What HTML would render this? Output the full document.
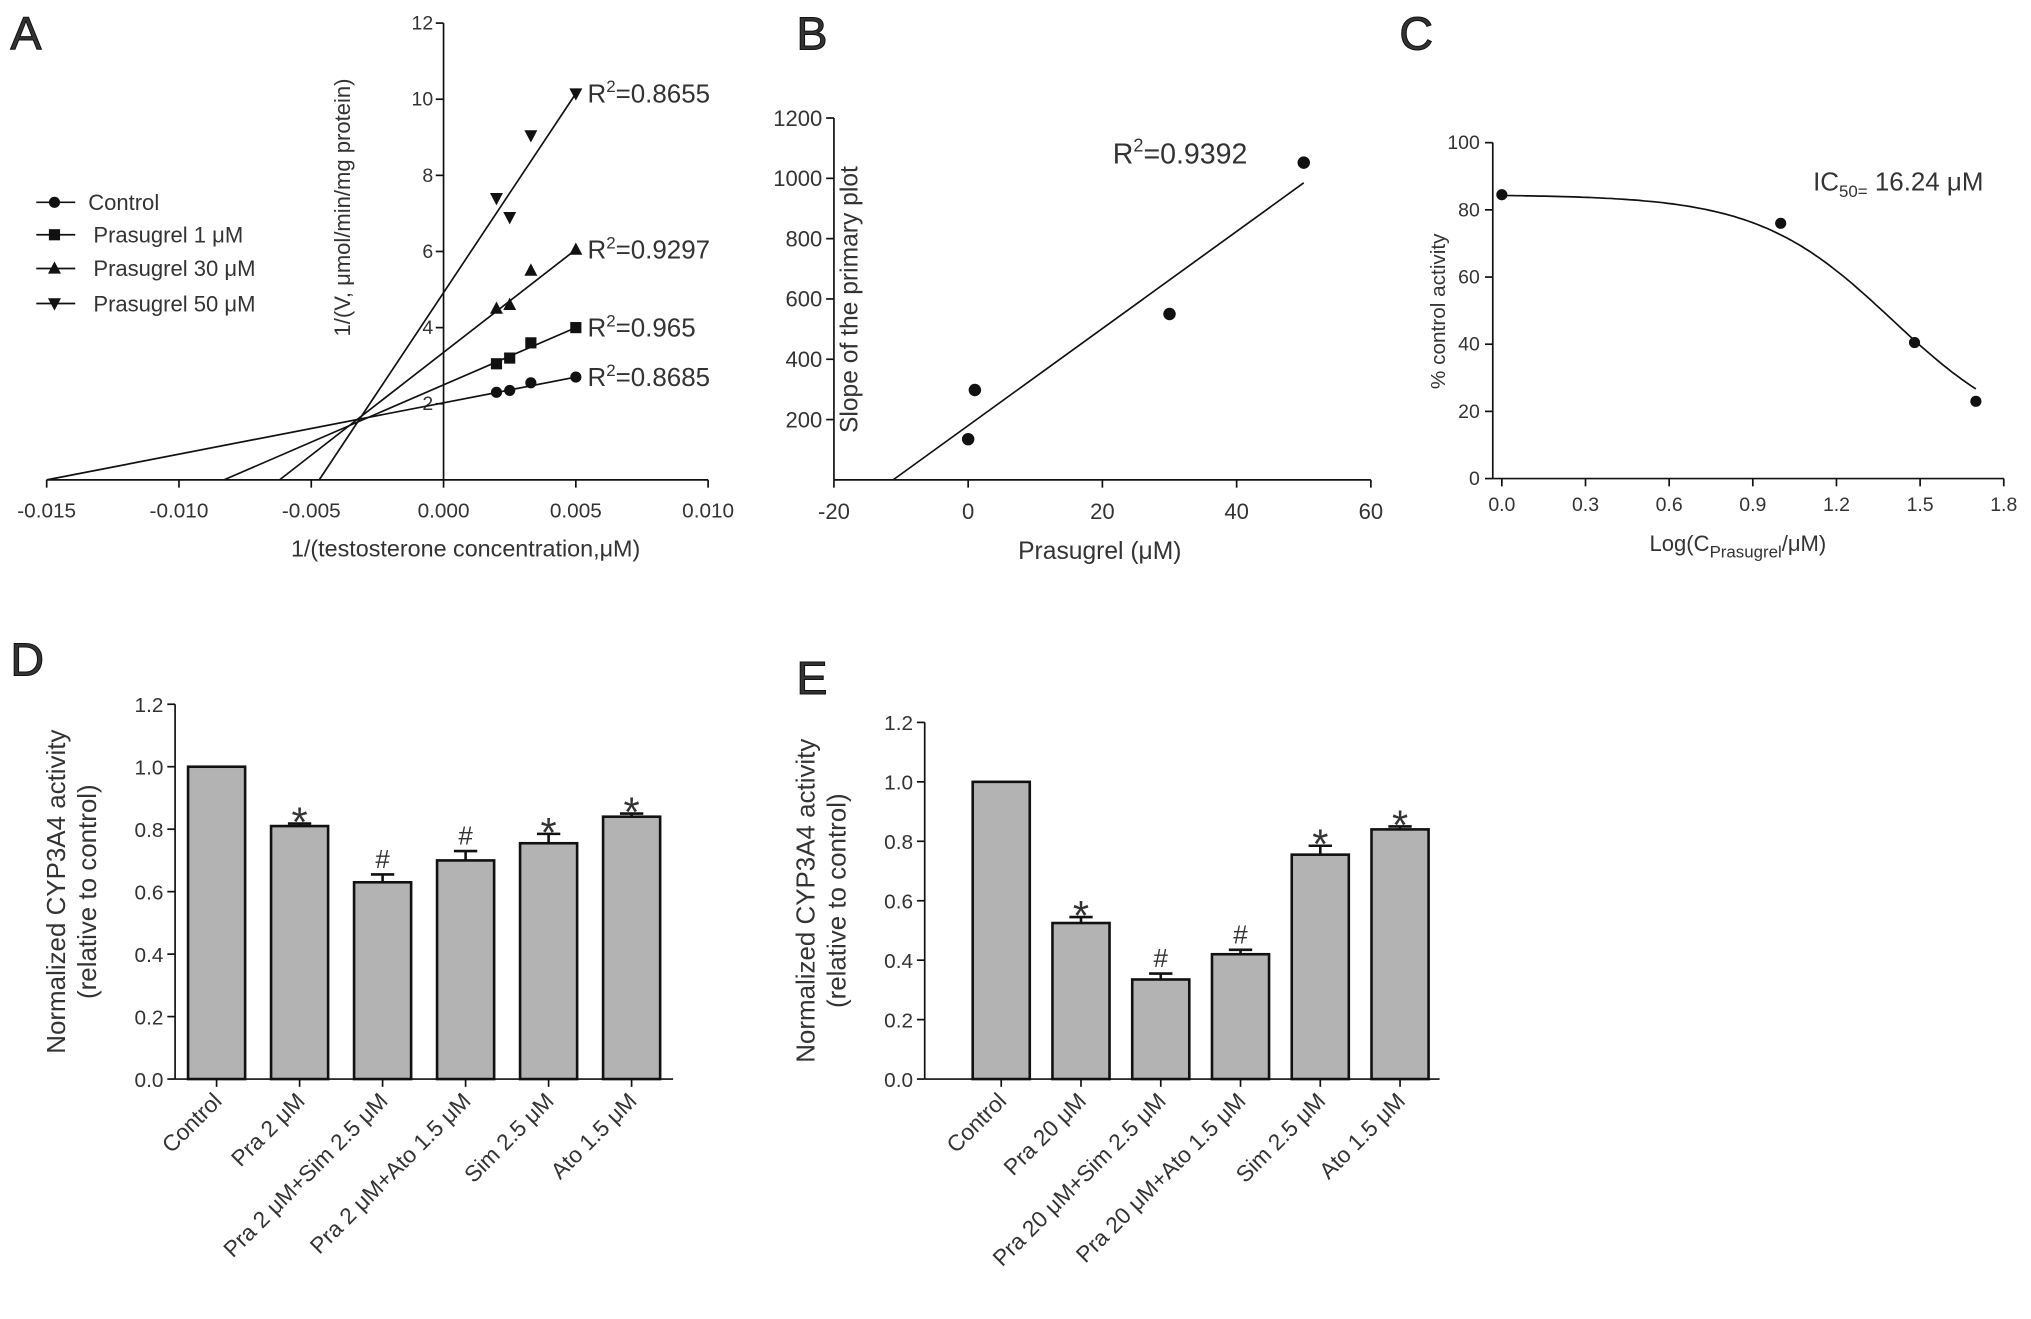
<!DOCTYPE html>
<html><head><meta charset="utf-8">
<style>
html,body{margin:0;padding:0;background:#fff;}
svg{display:block;}
text{font-family:"Liberation Sans",Arial,sans-serif;fill:#333;}
</style></head>
<body>
<svg id="fig" width="2031" height="1319" viewBox="0 0 1566 1017" xmlns="http://www.w3.org/2000/svg"></svg>
<script>
// ---------- Panel A data ----------
const aXTicks=[-0.015,-0.010,-0.005,0.000,0.005,0.010];
const aXTickLabels=["-0.015","-0.010","-0.005","0.000","0.005","0.010"];
const aYTicks=[2,4,6,8,10,12];
const aX=[0.002,0.0025,0.0033,0.005];
const aControl=[2.3,2.35,2.55,2.7];
const aPra1=[3.05,3.2,3.6,4.0];
const aPra30=[4.5,4.6,5.5,6.05];
const aPra50=[7.4,6.9,9.05,10.15];
const aIntercepts=[-0.015,-0.0083,-0.0062,-0.0047];
const aLineEnds=[2.7,4.0,6.05,10.15];
const aR2=["0.8685","0.965","0.9297","0.8655"];
const aNames=["Control","Prasugrel 1 μM","Prasugrel 30 μM","Prasugrel 50 μM"];
// ---------- Panel B data ----------
const bX=[0,1,30,50];
const bY=[135,298,550,1052];
const bXTicks=[-20,0,20,40,60];
const bYTicks=[200,400,600,800,1000,1200];
const bFitSlope=[16.1];
const bFitIntercept=[180];
// ---------- Panel C data ----------
const cX=[0,1,1.48,1.7];
const cY=[84.5,76,40.5,23];
const cXTicks=[0.0,0.3,0.6,0.9,1.2,1.5,1.8];
const cYTicks=[0,20,40,60,80,100];
const cFit=[84.5,10,1.4,1.8]; // top,bottom,logEC,hill
// ---------- Panel D data ----------
const dCats=["Control","Pra 2 μM","Pra 2 μM+Sim 2.5 μM","Pra 2 μM+Ato 1.5 μM","Sim 2.5 μM","Ato 1.5 μM"];
const dVals=[1.0,0.81,0.63,0.70,0.755,0.84];
const dErr=[0,0.008,0.025,0.03,0.03,0.01];
const dMarks=["","*","#","#","*","*"];
// ---------- Panel E data ----------
const eCats=["Control","Pra 20 μM","Pra 20 μM+Sim 2.5 μM","Pra 20 μM+Ato 1.5 μM","Sim 2.5 μM","Ato 1.5 μM"];
const eVals=[1.0,0.525,0.335,0.42,0.755,0.84];
const eErr=[0,0.02,0.02,0.015,0.03,0.01];
const eMarks=["","*","#","#","*","*"];
const barTicks=[0,0.2,0.4,0.6,0.8,1.0,1.2];
const barTickLabels=["0.0","0.2","0.4","0.6","0.8","1.0","1.2"];

const NS="http://www.w3.org/2000/svg";
const svg=document.getElementById('fig');
function mk(tag,attrs,parent){const e=document.createElementNS(NS,tag);for(const k in attrs)e.setAttribute(k,attrs[k]);(parent||svg).appendChild(e);return e;}
function txt(s,x,y,size,anchor,parent,extra){const t=mk('text',Object.assign({x:x,y:y,'font-size':size,'text-anchor':anchor||'start'},extra||{}),parent);t.textContent=s;return t;}
function line(x1,y1,x2,y2,p,w){return mk('line',{x1,y1,x2,y2,stroke:'#111','stroke-width':w||1.3},p);}
function marker(type,x,y,p){
  let e;
  if(type===0)e=mk('circle',{cx:x,cy:y,r:4.3,fill:'#111'},p);
  else if(type===1)e=mk('rect',{x:x-4.3,y:y-4.3,width:8.6,height:8.6,fill:'#111'},p);
  else if(type===2)e=mk('polygon',{points:`${x},${y-5.5} ${x-5},${y+4} ${x+5},${y+4}`,fill:'#111'},p);
  else e=mk('polygon',{points:`${x},${y+5.5} ${x-5},${y-4} ${x+5},${y-4}`,fill:'#111'},p);
  return e;
}
function letter(s,x,y,p){const t=txt(s,x,y,36,'start',p,{fill:'#111','stroke':'#111','stroke-width':0.8});return t;}

// ================= Panel A =================
(function(){
  const g=mk('g',{});
  
  
  const X=v=>36+(v+0.015)/0.025*510, Y=v=>370-v*29.35;
  letter('A',8,38,g);
  line(X(-0.015),370,X(0.010),370,g);
  line(X(0),Y(12),X(0),370,g);
  aXTicks.forEach((v,i)=>{line(X(v),370,X(v),376,g);const t=txt(aXTickLabels[i],X(v),399,16,'middle',g);});
  aYTicks.forEach(v=>{line(X(0)-6,Y(v),X(0),Y(v),g);const t=txt(String(v),X(0)-8,Y(v)+5,15,'end',g);});
  const series=[aControl,aPra1,aPra30,aPra50];
  series.forEach((s,i)=>{
    const l=line(X(aIntercepts[i]),Y(0),X(0.005),Y(aLineEnds[i]),g,1.3);
    
    
    s.forEach((v,j)=>{const m=marker(i,X(aX[j]),Y(v),g);});
    const t=mk('text',{x:453,y:Y(aLineEnds[i])+7,'font-size':20,'fill':'#777'},g);
    
    
    t.innerHTML='R<tspan dy="-8" font-size="13">2</tspan><tspan dy="8">='+aR2[i]+'</tspan>';
  });
  const lg=mk('g',{},g);
  
  
  const ly=[156,181,207,234];
  aNames.forEach((n,i)=>{line(28,ly[i],58,ly[i],lg);marker(i,42,ly[i],lg);const t=txt(n,i===0?68:72,ly[i]+6,17,'start',lg);});
  const yt=txt('1/(V, μmol/min/mg protein)',0,0,17,'middle',g,{transform:'translate(270,160) rotate(-90)'});
  
  const xt=txt('1/(testosterone concentration,μM)',359,429,18,'middle',g);
  
})();

// ================= Panel B =================
(function(){
  const g=mk('g',{});
  
  
  const X=v=>643+(v+20)/80*414, Y=v=>370-v/1200*279;
  letter('B',614,38,g);
  line(643,370,1057,370,g);line(643,Y(1200),643,370,g);
  bXTicks.forEach(v=>{line(X(v),370,X(v),376,g);const t=txt(String(v),X(v),400,17,'middle',g);});
  bYTicks.forEach(v=>{line(637,Y(v),643,Y(v),g);const t=txt(String(v),634,Y(v)+6,17,'end',g);});
  const x0=-bFitIntercept[0]/bFitSlope[0];
  const fl=line(X(x0),Y(0),X(50),Y(bFitSlope[0]*50+bFitIntercept[0]),g);
  
  bX.forEach((v,i)=>{const c=mk('circle',{cx:X(v),cy:Y(bY[i]),r:4.8,fill:'#111'},g);});
  const t=mk('text',{x:858,y:126,'font-size':22,fill:'#333'},g);
  
  t.innerHTML='R<tspan dy="-9" font-size="14">2</tspan><tspan dy="9">=0.9392</tspan>';
  const yt=txt('Slope of the primary plot',0,0,19,'middle',g,{transform:'translate(661,231) rotate(-90)'});
  
  const xt=txt('Prasugrel (μM)',848,431,19,'middle',g);
  
})();

// ================= Panel C =================
(function(){
  const g=mk('g',{});
  
  
  const X=v=>1158+v/1.8*387, Y=v=>369-v/100*259;
  letter('C',1079,38,g);
  line(1151,369,1545,369,g);line(1151,Y(100),1151,369,g);
  cXTicks.forEach(v=>{line(X(v),369,X(v),375,g);const t=txt(v.toFixed(1),X(v),394,15,'middle',g);});
  cYTicks.forEach(v=>{line(1145,Y(v),1151,Y(v),g);const t=txt(String(v),1141,Y(v)+5,15,'end',g);});
  const f=x=>cFit[1]+(cFit[0]-cFit[1])/(1+Math.pow(10,cFit[3]*(x-cFit[2])));
  let d='';for(let i=0;i<=100;i++){const x=1.7*i/100;d+=(i?'L':'M')+X(x).toFixed(1)+','+Y(f(x)).toFixed(1);}
  const p=mk('path',{d:d,fill:'none',stroke:'#111','stroke-width':1.3},g);
  
  cX.forEach((v,i)=>{const c=mk('circle',{cx:X(v),cy:Y(cY[i]),r:4.3,fill:'#111'},g);});
  const t=mk('text',{x:1398,y:147,'font-size':20,fill:'#222','font-family':'"Liberation Serif",serif'},g);
  
  t.innerHTML='IC<tspan dy="5" font-size="13">50=</tspan><tspan dy="-5"> 16.24 μM</tspan>';
  const yt=txt('% control activity',0,0,16,'middle',g,{transform:'translate(1114,240) rotate(-90)'});
  
  const xt=mk('text',{x:1340,y:425,'font-size':17,'text-anchor':'middle',fill:'#333'},g);
  
  xt.innerHTML='Log(C<tspan dy="5" font-size="13">Prasugrel</tspan><tspan dy="-5">/μM)</tspan>';
})();

// ================= Bar panels =================
function barPanel(name,L,lx,ax,y0,y12,xEnd,c0,step,cats,vals,errs,marks){
  const g=mk('g',{});
  
  
  const Y=v=>y0-(y0-y12)*v/1.2;
  letter(L,lx,y12-22,g);
  line(ax,y12,ax,y0,g);line(ax,y0,xEnd,y0,g);
  barTicks.forEach((v,i)=>{line(ax-6,Y(v),ax,Y(v),g);const t=txt(barTickLabels[i],ax-9,Y(v)+6,16,'end',g);});
  const bw=44;
  cats.forEach((c,i)=>{
    const cx=c0+i*step;
    const r=mk('rect',{x:cx-bw/2,y:Y(vals[i]),width:bw,height:y0-Y(vals[i]),fill:'#b3b3b3',stroke:'#111','stroke-width':2},g);
    
    if(errs[i]>0){line(cx,Y(vals[i]),cx,Y(vals[i]+errs[i]),g,2);line(cx-9,Y(vals[i]+errs[i]),cx+9,Y(vals[i]+errs[i]),g,2);}
    if(marks[i]){const star=marks[i]==='*';const m=txt(marks[i],cx,Y(vals[i]+errs[i])-(star?-10:5),star?32:20,'middle',g,{fill:'#222'});}
    line(cx,y0,cx,y0+6,g);
    const t=txt(c,cx+5,y0+18,17.5,'end',g,{transform:`rotate(-45 ${cx+5} ${y0+18})`});
    
  });
  const yt1=txt('Normalized CYP3A4 activity',0,0,20,'middle',g,{transform:`translate(${ax-85},${(y0+y12)/2}) rotate(-90)`});
  
  const yt2=txt('(relative to control)',0,0,20,'middle',g,{transform:`translate(${ax-61},${(y0+y12)/2}) rotate(-90)`});
  
}
barPanel('panel-d','D',8,135,832,543,519,167,64,dCats,dVals,dErr,dMarks);
barPanel('panel-e','E',614,713,832,557,1110,772,61.5,eCats,eVals,eErr,eMarks);
</script>
</body></html>
